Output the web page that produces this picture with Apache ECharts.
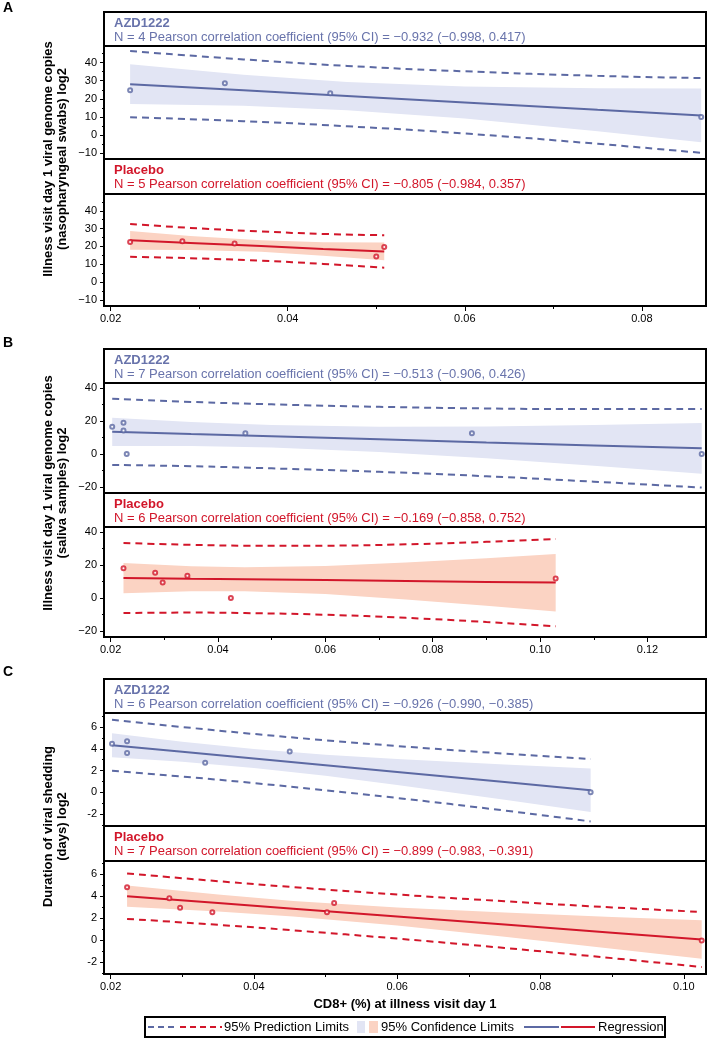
<!DOCTYPE html>
<html><head><meta charset="utf-8">
<script src="https://cdn.jsdelivr.net/npm/echarts@6/dist/echarts.min.js"></script>
<style>html,body{margin:0;padding:0;background:#fff}#c{width:709px;height:1040px}</style>
</head><body><div id="c"></div>
<script>
// ---------------- DATA ----------------
// Panel A (nasopharyngeal swabs)
const aAzdPtX = [0.0222, 0.0329, 0.0448, 0.0867];
const aAzdPtY = [24.7, 28.6, 23.0, 9.9];
const aAzdBandX = [0.0222, 0.035, 0.0467, 0.06, 0.075, 0.0867];
const aAzdFit  = [28.1, 24.7, 21.5, 18.0, 13.9, 10.8];
const aAzdCiLo = [17.1, 16.1, 13.7, 9.1, 2.0, -4.1];
const aAzdCiHi = [39.1, 33.3, 29.3, 26.8, 25.8, 25.7];
const aAzdPiLo = [9.8, 7.6, 4.8, 0.8, -4.9, -9.9];
const aAzdPiHi = [46.4, 41.8, 38.2, 35.2, 32.7, 31.5];

const aPboPtX = [0.0222, 0.0281, 0.0340, 0.0500, 0.0509];
const aPboPtY = [22.5, 22.9, 21.6, 14.3, 19.7];
const aPboBandX = [0.0222, 0.029, 0.037, 0.044, 0.0509];
const aPboFit  = [23.4, 21.9, 20.2, 18.6, 17.2];
const aPboCiLo = [18.2, 18.0, 17.0, 14.8, 12.2];
const aPboCiHi = [28.6, 25.8, 23.4, 22.4, 22.2];
const aPboPiLo = [14.2, 13.4, 12.0, 10.2, 8.1];
const aPboPiHi = [32.6, 30.4, 28.4, 27.0, 26.3];

// Panel B (saliva samples)
const bAzdPtX = [0.0203, 0.0224, 0.0224, 0.0230, 0.0451, 0.0873, 0.1301];
const bAzdPtY = [16.6, 19.0, 14.2, 0.0, 12.6, 12.6, 0.0];
const bAzdBandX = [0.0203, 0.035, 0.05, 0.07, 0.09, 0.11, 0.1301];
const bAzdFit  = [13.5, 12.1, 10.7, 8.9, 7.0, 5.2, 3.4];
const bAzdCiLo = [4.9, 4.8, 3.9, 1.2, -2.7, -7.2, -12.0];
const bAzdCiHi = [22.0, 19.4, 17.6, 16.5, 16.7, 17.6, 18.8];
const bAzdPiLo = [-6.7, -7.5, -8.8, -10.9, -13.6, -16.9, -20.5];
const bAzdPiHi = [33.6, 31.7, 30.2, 28.7, 27.7, 27.3, 27.3];

const bPboPtX = [0.0224, 0.0283, 0.0297, 0.0343, 0.0424, 0.1029];
const bPboPtY = [18.0, 15.3, 9.4, 13.5, 0.0, 11.8];
const bPboBandX = [0.0224, 0.035, 0.045, 0.06, 0.075, 0.09, 0.1029];
const bPboFit  = [12.1, 11.6, 11.3, 10.8, 10.2, 9.7, 9.3];
const bPboCiLo = [2.9, 4.0, 4.0, 2.3, -0.9, -4.7, -8.2];
const bPboCiHi = [21.2, 19.2, 18.6, 19.3, 21.4, 24.1, 26.7];
const bPboPiLo = [-9.2, -8.9, -9.2, -10.2, -12.1, -14.6, -17.2];
const bPboPiHi = [33.3, 32.2, 31.7, 31.7, 32.5, 34.0, 35.7];

// Panel C (duration of viral shedding)
const cAzdPtX = [0.0202, 0.0223, 0.0223, 0.0332, 0.0450, 0.0870];
const cAzdPtY = [4.46, 4.71, 3.63, 2.71, 3.75, 0.0];
const cAzdBandX = [0.0202, 0.03, 0.04, 0.05, 0.06, 0.075, 0.087];
const cAzdFit  = [4.33, 3.73, 3.11, 2.49, 1.87, 0.94, 0.19];
const cAzdCiLo = [3.23, 2.81, 2.24, 1.52, 0.68, -0.68, -1.81];
const cAzdCiHi = [5.43, 4.65, 3.98, 3.46, 3.06, 2.56, 2.19];
const cAzdPiLo = [1.98, 1.45, 0.85, 0.19, -0.52, -1.68, -2.68];
const cAzdPiHi = [6.68, 6.01, 5.37, 4.79, 4.26, 3.56, 3.06];

const cPboPtX = [0.0223, 0.0282, 0.0297, 0.0342, 0.0502, 0.0512, 0.1025];
const cPboPtY = [4.83, 3.81, 2.97, 2.56, 2.56, 3.40, 0.0];
const cPboBandX = [0.0223, 0.035, 0.0455, 0.06, 0.075, 0.09, 0.1025];
const cPboFit  = [4.01, 3.39, 2.87, 2.16, 1.43, 0.69, 0.08];
const cPboCiLo = [3.05, 2.62, 2.16, 1.34, 0.34, -0.75, -1.67];
const cPboCiHi = [4.97, 4.16, 3.58, 2.98, 2.52, 2.13, 1.83];
const cPboPiLo = [1.95, 1.41, 0.91, 0.16, -0.69, -1.61, -2.42];
const cPboPiHi = [6.07, 5.37, 4.83, 4.16, 3.55, 2.99, 2.58];

// Texts and ticks
const panelLetters = ['A', 'B', 'C'];
const groupNames = ['AZD1222', 'Placebo'];
const statTexts = [
  'N = 4 Pearson correlation coefficient (95% CI) = \u22120.932 (\u22120.998, 0.417)',
  'N = 5 Pearson correlation coefficient (95% CI) = \u22120.805 (\u22120.984, 0.357)',
  'N = 7 Pearson correlation coefficient (95% CI) = \u22120.513 (\u22120.906, 0.426)',
  'N = 6 Pearson correlation coefficient (95% CI) = \u22120.169 (\u22120.858, 0.752)',
  'N = 6 Pearson correlation coefficient (95% CI) = \u22120.926 (\u22120.990, \u22120.385)',
  'N = 7 Pearson correlation coefficient (95% CI) = \u22120.899 (\u22120.983, \u22120.391)'
];
const yTitles = [
  ['Illness visit day 1 viral genome copies', '(nasopharyngeal swabs) log2'],
  ['Illness visit day 1 viral genome copies', '(saliva samples) log2'],
  ['Duration of viral shedding', '(days) log2']
];
const xTitle = 'CD8+ (%) at illness visit day 1';
const aXTicks = [0.02, 0.04, 0.06, 0.08];
const aXMinor = [0.03, 0.05, 0.07];
const bXTicks = [0.02, 0.04, 0.06, 0.08, 0.10, 0.12];
const bXMinor = [0.03, 0.05, 0.07, 0.09, 0.11];
const cXTicks = [0.02, 0.04, 0.06, 0.08, 0.10];
const cXMinor = [0.03, 0.05, 0.07, 0.09];
const aYTicks = [-10, 0, 10, 20, 30, 40];
const aYMinor = [-5, 5, 15, 25, 35, 45];
const bYTicks = [-20, 0, 20, 40];
const bYMinor = [-10, 10, 30];
const cYTicks = [-2, 0, 2, 4, 6];
const cYMinor = [-3, -1, 1, 3, 5, 7];
const legendLabels = ['95% Prediction Limits', '95% Confidence Limits', 'Regression'];

// ---------------- STYLE / LAYOUT ----------------
const BLUE = '#5c69a3', BLUE_TXT = '#6873ab', BLUE_FILL = '#e2e5f4';
const RED = '#d2162a', RED_FILL = '#fbd3c3';
const FONT = "'Liberation Sans', Arial, Helvetica, sans-serif";
const L = 104, W = 602;

const plots = [
  {panel:0, g:0, top:46, h:113, hTop:12, hH:34, xr:[0.01925,0.08724], yr:[-13.3,49.2], xt:aXTicks, xm:aXMinor, yt:aYTicks, ym:aYMinor, minus:'\u2212',
   px:aAzdPtX, py:aAzdPtY, bx:aAzdBandX, fit:aAzdFit, cl:aAzdCiLo, ch:aAzdCiHi, pl:aAzdPiLo, ph:aAzdPiHi},
  {panel:0, g:1, top:194, h:112, hTop:159, hH:35, xr:[0.01925,0.08724], yr:[-13.4,49.4], xt:aXTicks, xm:aXMinor, yt:aYTicks, ym:aYMinor, minus:'\u2212', bottom:true,
   px:aPboPtX, py:aPboPtY, bx:aPboBandX, fit:aPboFit, cl:aPboCiLo, ch:aPboCiHi, pl:aPboPiLo, ph:aPboPiHi},
  {panel:1, g:0, top:383, h:110, hTop:349, hH:34, xr:[0.01877,0.1309], yr:[-23.8,43.2], xt:bXTicks, xm:bXMinor, yt:bYTicks, ym:bYMinor, minus:'\u2212',
   px:bAzdPtX, py:bAzdPtY, bx:bAzdBandX, fit:bAzdFit, cl:bAzdCiLo, ch:bAzdCiHi, pl:bAzdPiLo, ph:bAzdPiHi},
  {panel:1, g:1, top:527, h:110, hTop:493, hH:34, xr:[0.01877,0.1309], yr:[-23.7,43.0], xt:bXTicks, xm:bXMinor, yt:bYTicks, ym:bYMinor, minus:'\u2212', bottom:true,
   px:bPboPtX, py:bPboPtY, bx:bPboBandX, fit:bPboFit, cl:bPboCiLo, ch:bPboCiHi, pl:bPboPiLo, ph:bPboPiHi},
  {panel:2, g:0, top:713, h:113, hTop:679, hH:34, xr:[0.01908,0.1031], yr:[-3.1,7.3], xt:cXTicks, xm:cXMinor, yt:cYTicks, ym:cYMinor, minus:'-',
   px:cAzdPtX, py:cAzdPtY, bx:cAzdBandX, fit:cAzdFit, cl:cAzdCiLo, ch:cAzdCiHi, pl:cAzdPiLo, ph:cAzdPiHi},
  {panel:2, g:1, top:861, h:113, hTop:826, hH:35, xr:[0.01908,0.1031], yr:[-3.05,7.2], xt:cXTicks, xm:cXMinor, yt:cYTicks, ym:cYMinor, minus:'-', bottom:true,
   px:cPboPtX, py:cPboPtY, bx:cPboBandX, fit:cPboFit, cl:cPboCiLo, ch:cPboCiHi, pl:cPboPiLo, ph:cPboPiHi}
];
const panelTops = [12, 349, 679];
const panelBottoms = [306, 637, 974];
const letterY = [8, 343, 672];

const grid = [], xAxis = [], yAxis = [], series = [], graphic = [];

plots.forEach((p, i) => {
  const col = p.g === 0 ? BLUE : RED;
  const fill = p.g === 0 ? BLUE_FILL : RED_FILL;
  grid.push({left: L, width: W, top: p.top, height: p.h, show: true, borderColor: '#000', borderWidth: 2, backgroundColor: 'transparent'});
  const fmtX = v => v.toFixed(2);
  const fmtY = v => (v < 0 ? p.minus + Math.abs(v) : String(v));
  xAxis.push({type: 'value', gridIndex: i, position: 'bottom', min: p.xr[0], max: p.xr[1],
    axisLine: {show: false, onZero: false}, splitLine: {show: false},
    axisTick: {show: !!p.bottom, customValues: p.xt, length: 5, lineStyle: {color: '#000', width: 1}},
    axisLabel: {show: !!p.bottom, customValues: p.xt, formatter: fmtX, color: '#000', fontSize: 11, fontFamily: FONT, margin: 7}});
  xAxis.push({type: 'value', gridIndex: i, position: 'bottom', min: p.xr[0], max: p.xr[1],
    axisLine: {show: false, onZero: false}, splitLine: {show: false},
    axisTick: {show: !!p.bottom, customValues: p.xm, length: 3, lineStyle: {color: '#000', width: 1}},
    axisLabel: {show: false}});
  yAxis.push({type: 'value', gridIndex: i, position: 'left', min: p.yr[0], max: p.yr[1],
    axisLine: {show: false, onZero: false}, splitLine: {show: false},
    axisTick: {show: true, customValues: p.yt, length: 4, lineStyle: {color: '#000', width: 1}},
    axisLabel: {customValues: p.yt, formatter: fmtY, color: '#000', fontSize: 11, fontFamily: FONT, margin: 7}});
  yAxis.push({type: 'value', gridIndex: i, position: 'left', min: p.yr[0], max: p.yr[1],
    axisLine: {show: false, onZero: false}, splitLine: {show: false},
    axisTick: {show: true, customValues: p.ym, length: 2, lineStyle: {color: '#000', width: 1}},
    axisLabel: {show: false}});
  const xi = 2 * i, yi = 2 * i;
  // confidence band
  series.push({type: 'custom', xAxisIndex: xi, yAxisIndex: yi, silent: true, z: 1,
    data: p.bx.map((x, k) => [x, p.cl[k], p.ch[k]]),
    renderItem: (params, api) => {
      if (params.dataIndex !== 0) return null;
      const pts = [];
      for (let k = 0; k < p.bx.length; k++) pts.push(api.coord([p.bx[k], p.ch[k]]));
      for (let k = p.bx.length - 1; k >= 0; k--) pts.push(api.coord([p.bx[k], p.cl[k]]));
      return {type: 'polygon', shape: {points: pts}, style: {fill: fill, stroke: null}};
    }});
  // prediction limits
  [p.ph, p.pl].forEach(arr => {
    series.push({type: 'line', xAxisIndex: xi, yAxisIndex: yi, smooth: true, showSymbol: false, silent: true, z: 3,
      data: p.bx.map((x, k) => [x, arr[k]]),
      lineStyle: {color: col, width: 2, type: [7, 5]}});
  });
  // regression
  series.push({type: 'line', xAxisIndex: xi, yAxisIndex: yi, showSymbol: false, silent: true, z: 4,
    data: p.bx.map((x, k) => [x, p.fit[k]]),
    lineStyle: {color: col, width: 2}});
  // observations
  series.push({type: 'scatter', xAxisIndex: xi, yAxisIndex: yi, silent: true, z: 5,
    symbol: 'emptyCircle', symbolSize: 4,
    itemStyle: {color: col, borderColor: col, borderWidth: 1},
    data: p.px.map((x, k) => [x, p.py[k]])});

  // header box and texts
  const tcol = p.g === 0 ? BLUE_TXT : RED;
  graphic.push({type: 'rect', shape: {x: L, y: p.hTop, width: W, height: p.hH}, style: {fill: 'none', stroke: '#000', lineWidth: 2}, silent: true});
  graphic.push({type: 'text', x: 114, y: p.hTop + 11, style: {text: groupNames[p.g], fill: tcol, font: 'bold 13px ' + FONT, verticalAlign: 'middle'}, silent: true});
  graphic.push({type: 'text', x: 114, y: p.hTop + 25, style: {text: statTexts[i], fill: tcol, font: '13px ' + FONT, verticalAlign: 'middle'}, silent: true});
});

// panel letters and y titles
panelLetters.forEach((t, j) => {
  graphic.push({type: 'text', x: 3, y: letterY[j], style: {text: t, fill: '#000', font: 'bold 14px ' + FONT, verticalAlign: 'middle'}, silent: true});
  const cy = (panelTops[j] + panelBottoms[j]) / 2;
  graphic.push({type: 'text', x: 48, y: cy, rotation: Math.PI / 2, style: {text: yTitles[j][0], fill: '#000', font: 'bold 13px ' + FONT, align: 'center', verticalAlign: 'middle'}, silent: true});
  graphic.push({type: 'text', x: 62, y: cy, rotation: Math.PI / 2, style: {text: yTitles[j][1], fill: '#000', font: 'bold 13px ' + FONT, align: 'center', verticalAlign: 'middle'}, silent: true});
});
graphic.push({type: 'text', x: L + W / 2, y: 1004, style: {text: xTitle, fill: '#000', font: 'bold 13px ' + FONT, align: 'center', verticalAlign: 'middle'}, silent: true});

// legend
const LY = 1027;
graphic.push({type: 'rect', shape: {x: 145, y: 1017, width: 520, height: 20}, style: {fill: '#fff', stroke: '#000', lineWidth: 2}, silent: true});
graphic.push({type: 'line', shape: {x1: 148, y1: LY, x2: 177, y2: LY}, style: {stroke: BLUE, lineWidth: 2, lineDash: [6, 4]}, silent: true});
graphic.push({type: 'line', shape: {x1: 180, y1: LY, x2: 222, y2: LY}, style: {stroke: RED, lineWidth: 2, lineDash: [6, 4]}, silent: true});
graphic.push({type: 'text', x: 224, y: LY, style: {text: legendLabels[0], fill: '#000', font: '13px ' + FONT, verticalAlign: 'middle'}, silent: true});
graphic.push({type: 'rect', shape: {x: 357, y: 1021, width: 8, height: 12}, style: {fill: BLUE_FILL}, silent: true});
graphic.push({type: 'rect', shape: {x: 369, y: 1021, width: 9, height: 12}, style: {fill: RED_FILL}, silent: true});
graphic.push({type: 'text', x: 381, y: LY, style: {text: legendLabels[1], fill: '#000', font: '13px ' + FONT, verticalAlign: 'middle'}, silent: true});
graphic.push({type: 'line', shape: {x1: 524, y1: LY, x2: 559, y2: LY}, style: {stroke: BLUE, lineWidth: 2}, silent: true});
graphic.push({type: 'line', shape: {x1: 561, y1: LY, x2: 595, y2: LY}, style: {stroke: RED, lineWidth: 2}, silent: true});
graphic.push({type: 'text', x: 598, y: LY, style: {text: legendLabels[2], fill: '#000', font: '13px ' + FONT, verticalAlign: 'middle'}, silent: true});

const chart = echarts.init(document.getElementById('c'), null, {renderer: 'canvas'});
chart.setOption({animation: false, backgroundColor: '#fff', grid, xAxis, yAxis, series, graphic});
</script></body></html>
